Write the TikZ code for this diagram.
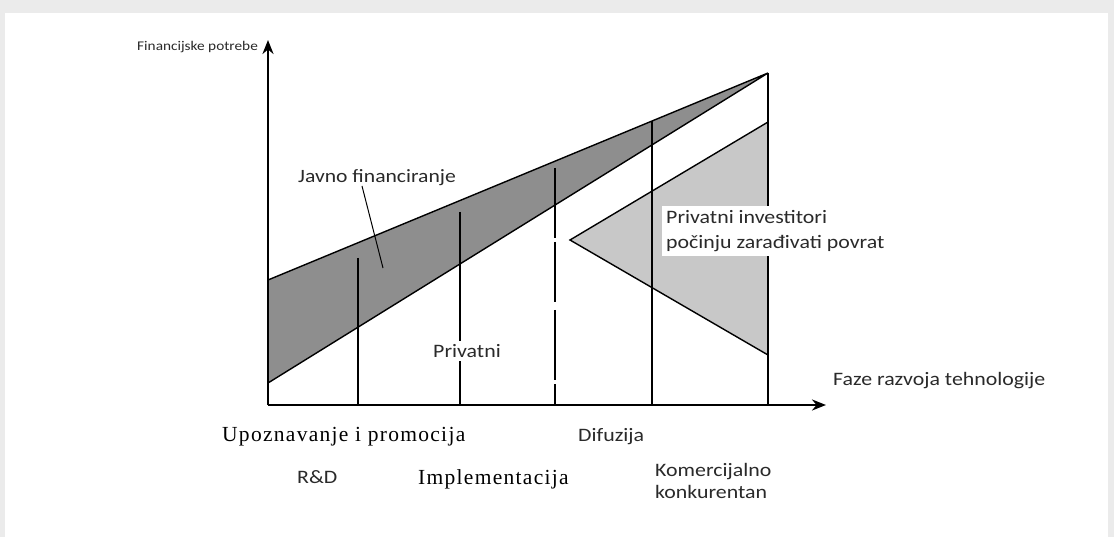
\documentclass[tikz,border=0pt]{standalone}
\usepackage{fontspec}
\setmainfont{Liberation Serif}[LetterSpace=6]
\setsansfont{Carlito}[FakeStretch=1.15]
\usetikzlibrary{arrows.meta}

\definecolor{bandgray}{HTML}{8E8E8E}
\definecolor{trigray}{HTML}{C8C8C8}
\definecolor{txtgray}{HTML}{2A2A2A}

\begin{document}
\begin{tikzpicture}[x=1pt, y=-1pt,
    lbl/.style={font=\sffamily\fontsize{19}{22}\selectfont, text=txtgray, inner sep=1pt, anchor=west},
    phase/.style={font=\rmfamily\fontsize{21.5}{24}\selectfont, inner sep=0, anchor=west},
    axis/.style={line width=2.4pt, -{Stealth[length=14pt, width=11pt]}},
    phaseline/.style={line width=1.4pt},
    edgeline/.style={line width=1.4pt}]
        \useasboundingbox (0,0) rectangle (1114,537);
        \fill[black!8] (0,0) rectangle (1114,537);
        \fill[white] (5,13) rectangle (1108,537);

        % axes
        \coordinate (o) at (268, 405);
        \coordinate (ytop) at (268, 40);
        \coordinate (xend) at (826, 405);

        % band and triangle
        \coordinate (b0) at (268, 280);
        \coordinate (b1) at (268, 383);
        \coordinate (tip) at (768, 73);
        \coordinate (t0) at (570, 240);
        \coordinate (t1) at (768, 122);
        \coordinate (t2) at (768, 355);

        \filldraw[fill=bandgray, edgeline] (b0) -- (tip) -- (b1) -- cycle;
        \filldraw[fill=trigray, edgeline] (t0) -- (t1) -- (t2) -- cycle;

        % phase lines
        \coordinate (p1) at (358, 258);  \coordinate (q1) at (358, 405);
        \coordinate (p2) at (460, 212);  \coordinate (q2) at (460, 405);
        \coordinate (p3) at (555, 168);  \coordinate (q3) at (555, 405);
        \coordinate (p4) at (652, 121);  \coordinate (q4) at (652, 405);
        \coordinate (q5) at (768, 405);

        \draw[phaseline] (p1) -- (q1);
        \draw[phaseline] (p2) -- (q2);
        \draw[phaseline, dash pattern=on 70pt off 4pt on 60pt off 8pt] (p3) -- (q3);
        \draw[phaseline] (p4) -- (q4);
        \draw[line width=1.8pt] (tip) -- (q5);

        \draw[axis] (o) -- (ytop);
        \draw[axis] (o) -- (xend);

        % labels
        \node (fp) [lbl, font=\sffamily\fontsize{13.3}{16}\selectfont] at (136, 47) {Financijske potrebe};
        \node (fr) [lbl] at (832, 381) {Faze razvoja tehnologije};
        \node (jf) [lbl, font=\sffamily\fontsize{18.8}{22}\selectfont] at (297, 178) {Javno financiranje};
        \coordinate (jfa) at (362, 186);
        \coordinate (jfb) at (383, 268);
        \draw[line width=1pt] (jfa) -- (jfb);
        \node (pr) [lbl, fill=white, inner sep=3pt] at (430, 351) {Privatni};
        \node (pi) [lbl, fill=white, inner sep=4pt, align=left] at (662, 231)
            {Privatni investitori\\[3pt]počinju zarađivati povrat};

        \node (up) [phase] at (222, 437) {Upoznavanje i promocija};
        \node (df) [lbl] at (577, 437) {Difuzija};
        \node (rd) [lbl] at (296, 477) {R\&D};
        \node (im) [phase] at (418, 479) {Implementacija};
        \node (kk) [lbl, align=left] at (654, 481) {Komercijalno\\[0pt]konkurentan};
\end{tikzpicture}
\end{document}
